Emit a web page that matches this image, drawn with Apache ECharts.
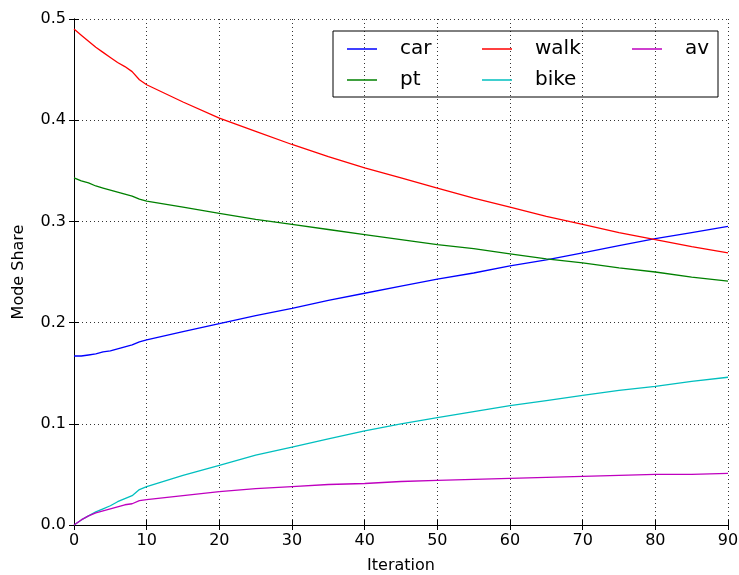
<!DOCTYPE html>
<html>
<head>
<meta charset="utf-8">
<script src="https://cdn.jsdelivr.net/npm/echarts@6/dist/echarts.min.js"></script>
<style>
html,body{margin:0;padding:0;background:#fff;}
#main{width:739px;height:575px;}
</style>
</head>
<body>
<div id="main"></div>
<script>
/*---------数据---------*/
var iters = [0, 1, 2, 3, 4, 5, 6, 7, 8, 9, 10, 15, 20, 25, 30, 35, 40, 45, 50, 55, 60, 65, 70, 75, 80, 85, 90];
var car  = [0.167, 0.167, 0.168, 0.169, 0.171, 0.172, 0.174, 0.176, 0.178, 0.181, 0.183, 0.191, 0.199, 0.207, 0.214, 0.222, 0.229, 0.236, 0.243, 0.249, 0.256, 0.262, 0.269, 0.276, 0.283, 0.289, 0.295];
var pt   = [0.343, 0.340, 0.338, 0.335, 0.333, 0.331, 0.329, 0.327, 0.325, 0.322, 0.320, 0.314, 0.308, 0.302, 0.297, 0.292, 0.287, 0.282, 0.277, 0.273, 0.268, 0.263, 0.259, 0.254, 0.250, 0.245, 0.241];
var walk = [0.490, 0.484, 0.478, 0.472, 0.467, 0.462, 0.457, 0.453, 0.448, 0.440, 0.435, 0.418, 0.402, 0.389, 0.376, 0.364, 0.353, 0.343, 0.333, 0.323, 0.314, 0.305, 0.297, 0.289, 0.282, 0.275, 0.269];
var bike = [0, 0.005, 0.009, 0.013, 0.016, 0.019, 0.023, 0.026, 0.029, 0.035, 0.038, 0.049, 0.059, 0.069, 0.077, 0.085, 0.093, 0.100, 0.106, 0.112, 0.118, 0.123, 0.128, 0.133, 0.137, 0.142, 0.146];
var av   = [0, 0.005, 0.009, 0.012, 0.014, 0.016, 0.018, 0.020, 0.021, 0.024, 0.025, 0.029, 0.033, 0.036, 0.038, 0.040, 0.041, 0.043, 0.044, 0.045, 0.046, 0.047, 0.048, 0.049, 0.050, 0.050, 0.051];

var modes = [
	['car', car, '#0000ff'],
	['pt', pt, '#008000'],
	['walk', walk, '#ff0000'],
	['bike', bike, '#00bfbf'],
	['av', av, '#bf00bf']
];

function pairs(vals) {
	return iters.map(function(x, i) { return [x, vals[i]]; });
}

var font = 'DejaVu Sans';
var series = modes.map(function(m) {
	return {
		name: m[0],
		type: 'line',
		data: pairs(m[1]),
		showSymbol: false,
		smooth: false,
		lineStyle: { color: m[2], width: 1.3 },
		itemStyle: { color: m[2] }
	};
});

// legend分三列，外框用graphic画
function legendCol(names, left) {
	return {
		orient: 'vertical',
		left: left,
		top: 34,
		data: names,
		icon: 'rect',
		itemWidth: 30,
		itemHeight: 1.5,
		itemGap: 11,
		textStyle: { fontFamily: font, fontSize: 20, color: '#000', padding: [0, 0, 0, 18] }
	};
}

var tickStyle = { show: true, inside: true, length: 5, lineStyle: { color: '#000' } };
var lineStyle = { show: true, lineStyle: { color: '#000', width: 1 } };
var gridLine = { show: true, lineStyle: { color: '#333', type: [1, 3], width: 1 } };

echarts.init(document.getElementById('main')).setOption({
	backgroundColor: '#fff',
	animation: false,
	grid: { left: 74, right: 11, top: 19, bottom: 50, outerBoundsMode: 'none', containLabel: false },
	legend: [
		legendCol(['car', 'pt'], 342),
		legendCol(['walk', 'bike'], 477),
		legendCol(['av'], 627)
	],
	graphic: [{
		type: 'rect',
		shape: { x: 333, y: 31, width: 385, height: 66 },
		style: { fill: 'rgba(0,0,0,0)', stroke: '#000', lineWidth: 1 },
		z: 100
	}],
	xAxis: [{
		type: 'value',
		min: 0, max: 90, interval: 10,
		name: 'Iteration',
		nameLocation: 'middle',
		nameGap: 33,
		nameTextStyle: { fontFamily: font, fontSize: 16, color: '#000' },
		axisLine: lineStyle,
		axisTick: tickStyle,
		axisLabel: { fontFamily: font, fontSize: 16, color: '#000', margin: 8 },
		splitLine: gridLine
	}, {
		type: 'value',
		position: 'top',
		min: 0, max: 90, interval: 10,
		axisLine: lineStyle,
		axisTick: tickStyle,
		axisLabel: { show: false },
		splitLine: { show: false }
	}],
	yAxis: [{
		type: 'value',
		min: 0, max: 0.5, interval: 0.1,
		name: 'Mode Share',
		nameLocation: 'middle',
		nameGap: 47,
		nameTextStyle: { fontFamily: font, fontSize: 16, color: '#000' },
		axisLine: lineStyle,
		axisTick: tickStyle,
		axisLabel: {
			fontFamily: font, fontSize: 16, color: '#000', margin: 8,
			formatter: function(v) { return v.toFixed(1); }
		},
		splitLine: gridLine
	}, {
		type: 'value',
		position: 'right',
		min: 0, max: 0.5, interval: 0.1,
		axisLine: lineStyle,
		axisTick: tickStyle,
		axisLabel: { show: false },
		splitLine: { show: false }
	}],
	series: series
});
</script>
</body>
</html>
